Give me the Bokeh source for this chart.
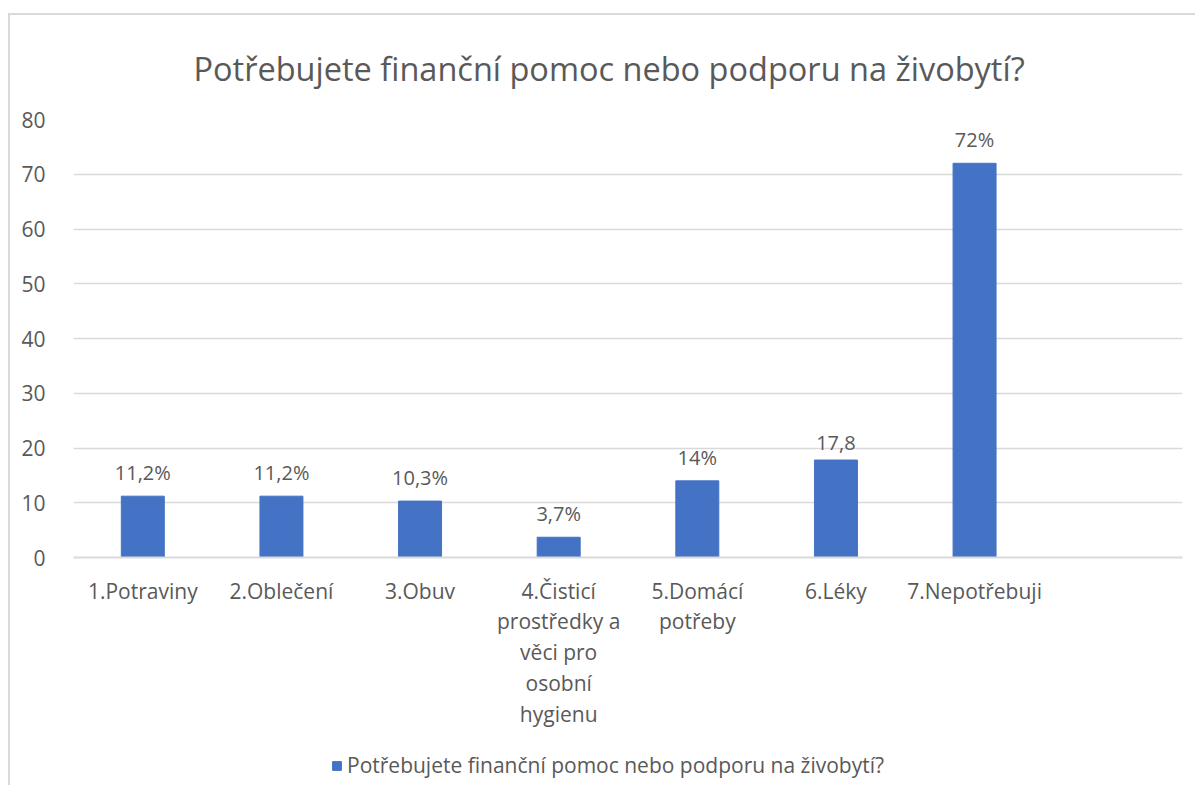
from bokeh.plotting import figure
from bokeh.layouts import column
from bokeh.models import Range1d, FixedTicker, ColumnDataSource, Legend, LegendItem, Title, LabelSet
from bokeh.core.properties import value
from bokeh.embed import file_html
from bokeh.resources import INLINE

title_text = "Potřebujete finanční pomoc nebo podporu na živobytí?"
categories = ["1.Potraviny", "2.Oblečení", "3.Obuv",
              "4.Čisticí\nprostředky a\nvěci pro\nosobní\nhygienu",
              "5.Domácí\npotřeby", "6.Léky", "7.Nepotřebuji"]
values = [11.2, 11.2, 10.3, 3.7, 14, 17.8, 72]
value_labels = ["11,2%", "11,2%", "10,3%", "3,7%", "14%", "17,8", "72%"]
y_ticks = [0, 10, 20, 30, 40, 50, 60, 70, 80]

FONT = "Open Sans"
GREY = "#595959"
BAR = "#4472C4"
LINE = "#d9d9d9"

positions = list(range(1, len(categories) + 1))
src = ColumnDataSource(dict(x=positions, top=values, lab=value_labels))

W = 1185
p = figure(width=W, height=715, output_backend="svg", toolbar_location=None,
           x_range=Range1d(0.5, 8.5), y_range=Range1d(0, 80),
           min_border_left=63, min_border_right=13, min_border_top=98,
           min_border_bottom=171)
p.outline_line_color = None
p.background_fill_color = "white"
p.border_fill_color = "white"

t = Title(text=title_text, align="left", offset=120, text_font=FONT,
          text_font_size="32.5px", text_color=GREY, text_font_style="normal",
          text_line_height=0.85, standoff=57)
p.add_layout(t, "above")

r = p.vbar(x="x", top="top", width=0.31, source=src, color=BAR)

labels = LabelSet(x="x", y="top", text="lab", source=src, text_align="center",
                  text_baseline="bottom", y_offset=10, text_font=value(FONT),
                  text_font_size="20px", text_color=GREY)
p.add_layout(labels)

p.xaxis.ticker = FixedTicker(ticks=positions)
p.xaxis.major_label_overrides = {pos: c for pos, c in zip(positions, categories)}
p.xaxis.major_tick_line_color = None
p.xaxis.minor_tick_line_color = None
p.xaxis.axis_line_color = LINE
p.xaxis.axis_line_width = 2
p.xaxis.major_label_text_font = FONT
p.xaxis.major_label_text_font_size = "21px"
p.xaxis.major_label_text_color = GREY
p.xaxis.major_label_text_line_height = 1.1
p.xaxis.major_label_standoff = 13

p.yaxis.ticker = FixedTicker(ticks=y_ticks)
p.yaxis.axis_line_color = None
p.yaxis.major_tick_line_color = None
p.yaxis.minor_tick_line_color = None
p.yaxis.major_label_text_font = FONT
p.yaxis.major_label_text_font_size = "21px"
p.yaxis.major_label_text_color = GREY
p.yaxis.major_label_standoff = 22

p.xgrid.grid_line_color = None
p.ygrid.grid_line_color = LINE
p.ygrid.grid_line_width = 1.5

# legend strip below the chart (its frame is aligned with the chart's frame)
p2 = figure(width=W, height=55, output_backend="svg", toolbar_location=None,
            x_range=Range1d(0, 1), y_range=Range1d(0, 1),
            min_border_left=0, min_border_right=0, min_border_top=11,
            min_border_bottom=0)
p2.axis.visible = False
p2.grid.visible = False
p2.outline_line_color = None
r2 = p2.vbar(x="x", top="top", width=0.31, source=src, color=BAR, visible=False)
legend = Legend(items=[LegendItem(label=title_text, renderers=[r2])],
                location=(258, 6), orientation="horizontal",
                label_text_font=FONT, label_text_font_size="21px",
                label_text_color=GREY, glyph_width=11, glyph_height=11,
                label_standoff=5, border_line_color=None, margin=0, padding=2,
                background_fill_alpha=0, inactive_fill_alpha=0)
p2.add_layout(legend, "center")

layout = column(p, p2, spacing=0,
                styles={"border-left": "2px solid #d9d9d9",
                        "border-top": "2px solid #d9d9d9",
                        "margin-left": "8px", "margin-top": "13px"})

open("out.html", "w").write(file_html(layout, INLINE))
